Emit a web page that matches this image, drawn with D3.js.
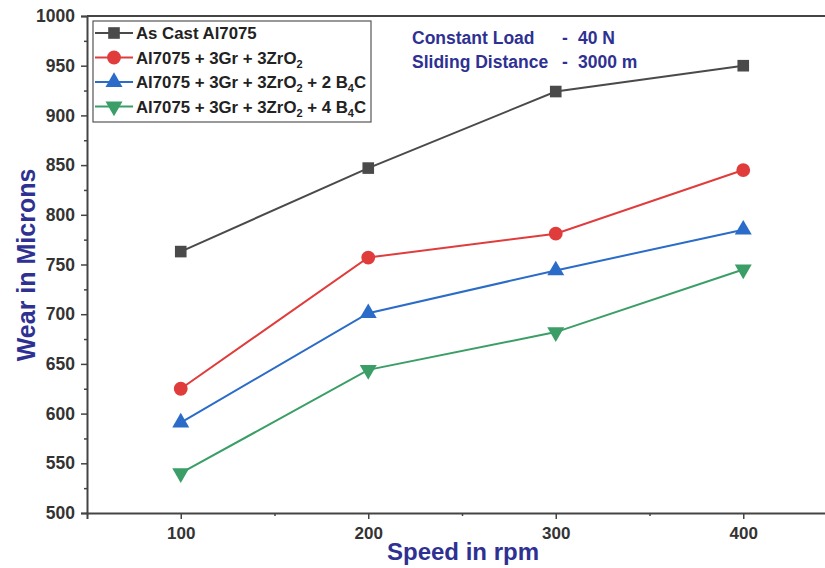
<!DOCTYPE html>
<html><head><meta charset="utf-8">
<script src="https://cdn.jsdelivr.net/npm/d3@7"></script>
<style>body{margin:0;background:#fff;overflow:hidden}svg{display:block;font-family:"Liberation Sans",Arial,sans-serif}</style>
</head><body><svg id="c" width="825" height="568"></svg>
<script>
const speeds = [100, 200, 300, 400];
const asCast = [763, 847, 924, 950];
const grZr = [625, 757, 781, 845];
const grZr2B4C = [591, 701, 744, 785];
const grZr4B4C = [540, 644, 682, 745];
const seriesNames = ["As Cast Al7075", "Al7075 + 3Gr + 3ZrO|2", "Al7075 + 3Gr + 3ZrO|2| + 2 B|4|C", "Al7075 + 3Gr + 3ZrO|2| + 4 B|4|C"];
const seriesColors = ["#4a4a4a", "#e03c3c", "#2a6cc8", "#3a9e66"];
const seriesSymbols = ["square", "circle", "triangle", "triangleDown"];
const yTicks = [500, 550, 600, 650, 700, 750, 800, 850, 900, 950, 1000];
const xTicks = [100, 200, 300, 400];
const notes = [["Constant Load", "-", "40 N"], ["Sliding Distance", "-", "3000 m"]];

const svg = d3.select("#c");
const x = d3.scaleLinear().domain([50, 450]).range([87, 837]);
const y = d3.scaleLinear().domain([500, 1000]).range([513, 16]);
const axisCol = "#444";

// frame top
svg.append("line").attr("x1", 87).attr("x2", 837).attr("y1", 16).attr("y2", 16).attr("stroke", axisCol).attr("stroke-width", 2);

// y axis
const ya = svg.append("g").attr("transform", "translate(87,0)")
  .call(d3.axisLeft(y).tickValues(yTicks).tickSize(6).tickPadding(6).tickFormat(d3.format("d")));
ya.select(".domain").attr("stroke", axisCol).attr("stroke-width", 2);
ya.selectAll(".tick line").attr("stroke", axisCol).attr("stroke-width", 1.5);
ya.selectAll(".tick text").attr("fill", "#333").attr("font-size", 17.5).attr("font-weight", "bold");
svg.append("g").attr("transform", "translate(87,0)")
  .call(d3.axisLeft(y).tickValues(d3.range(525, 1000, 50)).tickSize(3).tickFormat(""))
  .call(g => { g.select(".domain").remove(); g.selectAll("line").attr("stroke", axisCol).attr("stroke-width", 1.5); });

// x axis
const xa = svg.append("g").attr("transform", "translate(0,513)")
  .call(d3.axisBottom(x).tickValues(xTicks).tickSize(6).tickPadding(8).tickFormat(d3.format("d")));
xa.select(".domain").attr("stroke", axisCol).attr("stroke-width", 2);
xa.selectAll(".tick line").attr("stroke", axisCol).attr("stroke-width", 1.5);
xa.selectAll(".tick text").attr("fill", "#333").attr("font-size", 17).attr("font-weight", "bold");
svg.append("g").attr("transform", "translate(0,513)")
  .call(d3.axisBottom(x).tickValues([150, 250, 350]).tickSize(3).tickFormat(""))
  .call(g => { g.select(".domain").remove(); g.selectAll("line").attr("stroke", axisCol).attr("stroke-width", 1.5); });

// titles
svg.append("text").attr("x", 463).attr("y", 560).attr("text-anchor", "middle")
  .attr("font-size", 24).attr("font-weight", "bold").attr("fill", "#2e3192").text("Speed in rpm");
svg.append("text").attr("transform", "translate(35,265) rotate(-90)").attr("text-anchor", "middle")
  .attr("font-size", 25).attr("font-weight", "bold").attr("fill", "#2e3192").text("Wear in Microns");

// series
const allSeries = [asCast, grZr, grZr2B4C, grZr4B4C];
function symbolPath(kind) {
  if (kind === "square") return d3.symbol().type(d3.symbolSquare).size(135)();
  if (kind === "circle") return d3.symbol().type(d3.symbolCircle).size(150)();
  return d3.symbol().type(d3.symbolTriangle).size(125)();
}
function drawMarker(g, kind, cx, cy, col) {
  g.append("path").attr("d", symbolPath(kind))
    .attr("transform", `translate(${cx},${cy})` + (kind === "triangleDown" ? " rotate(180)" : ""))
    .attr("fill", col);
}
const line = d3.line().x((d, i) => x(speeds[i])).y(d => y(d));
allSeries.forEach((vals, si) => {
  svg.append("path").datum(vals).attr("d", line).attr("fill", "none")
    .attr("stroke", seriesColors[si]).attr("stroke-width", 2);
  const g = svg.append("g");
  vals.forEach((v, i) => drawMarker(g, seriesSymbols[si], x(speeds[i]), y(v), seriesColors[si]));
});

// legend
const lg = svg.append("g");
lg.append("rect").attr("x", 93).attr("y", 21).attr("width", 278).attr("height", 101)
  .attr("fill", "#fff").attr("stroke", "#555").attr("stroke-width", 1.2);
seriesNames.forEach((name, i) => {
  const cy = 33 + i * 24.5;
  lg.append("line").attr("x1", 95).attr("x2", 133).attr("y1", cy).attr("y2", cy)
    .attr("stroke", seriesColors[i]).attr("stroke-width", 2);
  drawMarker(lg, seriesSymbols[i], 114, cy, seriesColors[i]);
  const t = lg.append("text").attr("x", 136).attr("y", cy + 6).attr("font-size", 16.8)
    .attr("font-weight", "bold").attr("fill", "#222");
  name.split("|").forEach((part, k) => {
    const ts = t.append("tspan").text(part);
    if (k % 2 === 1) ts.attr("font-size", 11).attr("dy", 4);
    else if (k > 0) ts.attr("dy", -4);
  });
});

// notes
notes.forEach((n, i) => {
  const yy = 44 + i * 23.5;
  svg.append("text").attr("x", 412).attr("y", yy).attr("font-size", 17.5).attr("font-weight", "bold")
    .attr("fill", "#2e3192").text(n[0]);
  svg.append("text").attr("x", 562).attr("y", yy).attr("font-size", 17.5).attr("font-weight", "bold")
    .attr("fill", "#2e3192").text(n[1]);
  svg.append("text").attr("x", 578).attr("y", yy).attr("font-size", 17.5).attr("font-weight", "bold")
    .attr("fill", "#2e3192").text(n[2]);
});
</script></body></html>
